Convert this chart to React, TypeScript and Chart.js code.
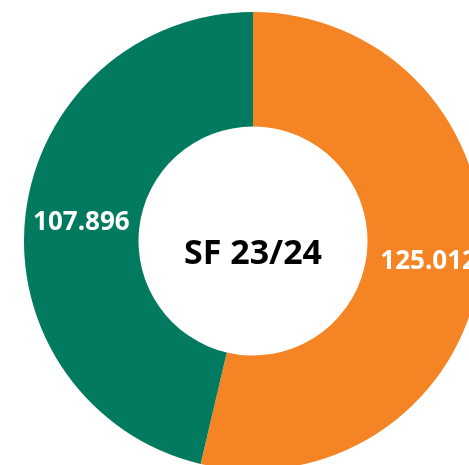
import React, { useEffect, useRef } from "react";
import { Chart, registerables } from "chart.js";

Chart.register(...registerables);

const categories = ["A", "B"];
const values = [125.012, 107.896];
const valueLabels = ["125.012", "107.896"];
const colors = ["#F58524", "#027A5F"];
const centerText = "SF 23/24";

const labelPlugin = {
  id: "sliceLabels",
  afterDatasetsDraw(chart: any) {
    const ctx = chart.ctx;
    const meta = chart.getDatasetMeta(0);
    ctx.save();
    ctx.fillStyle = "#FFFFFF";
    ctx.font = "bold 26px 'Open Sans'";
    ctx.textAlign = "center";
    ctx.textBaseline = "middle";
    meta.data.forEach((arc: any, i: number) => {
      const p = arc.tooltipPosition();
      ctx.fillText(valueLabels[i], p.x + (i === 0 ? 5 : -1), p.y + 1);
    });
    const a = meta.data[0];
    ctx.fillStyle = "#000000";
    ctx.font = "bold 34px 'Open Sans'";
    ctx.fillText(centerText, a.x, a.y + 13);
    ctx.restore();
  },
};

export default function App() {
  const ref = useRef<HTMLCanvasElement>(null);
  useEffect(() => {
    if (!ref.current) return;
    const chart = new Chart(ref.current, {
      type: "doughnut",
      data: {
        labels: categories,
        datasets: [
          {
            data: values,
            backgroundColor: colors,
            borderWidth: 0,
          },
        ],
      },
      options: {
        responsive: false,
        animation: false,
        cutout: "50%",
        layout: { padding: 0 },
        plugins: {
          legend: { display: false },
          tooltip: { enabled: false },
        },
      },
      plugins: [labelPlugin],
    });
    return () => chart.destroy();
  }, []);
  return (
    <div
      style={{
        position: "fixed",
        left: 0,
        top: 0,
        width: 469,
        height: 465,
        overflow: "hidden",
        background: "#FFFFFF",
      }}
    >
      <canvas
        ref={ref}
        width={458}
        height={458}
        style={{ position: "absolute", left: 23.5, top: 12, width: 458, height: 458 }}
      />
    </div>
  );
}
